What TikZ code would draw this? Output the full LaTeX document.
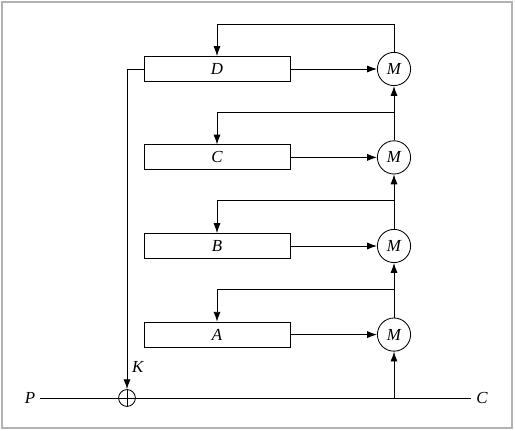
\documentclass[tikz,border=0pt]{standalone}
\usepackage{fontspec}
\setmainfont{Liberation Serif}
\usetikzlibrary{calc,arrows.meta}

\begin{document}
\begin{tikzpicture}[line width=0.6pt, >={Latex[length=7pt,width=5pt]},
  font=\itshape\large,
  blk/.style={draw, minimum width=3.65cm, minimum height=0.625cm},
  mul/.style={draw, circle, minimum size=0.83cm, inner sep=0pt}]
  \useasboundingbox (0,0) rectangle (12.875,10.775);
  % 外框
  \draw[gray!60, line width=0.9pt] (0.05,0.075) rectangle (12.8,10.725);
  % 四个方框, 间距 2.21
  \node[blk] (D) at (5.425,9.05) {D};
  \node[blk] (C) at (5.425,6.84) {C};
  \node[blk] (B) at (5.425,4.625) {B};
  \node[blk] (A) at (5.425,2.41) {A};
  % 乘法器 M
  \node[mul] (MD) at (9.85,9.05) {M};
  \node[mul] (MC) at (9.85,6.84) {M};
  \node[mul] (MB) at (9.85,4.625) {M};
  \node[mul] (MA) at (9.85,2.41) {M};
  % 异或
  \node[draw, circle, minimum size=0.42cm, inner sep=0pt] (X) at (3.175,0.825) {};
  \draw (X.north) -- (X.south);
  \draw (X.west) -- (X.east);
  \node (P) at (0.75,0.825) {P};
  \node (Ct) at (12.05,0.825) {C};
  \node[right] (K) at (3.175,1.6) {K};
  % 分支点
  \coordinate (Br) at (9.85,0.825);
  \coordinate (fA) at (9.85,3.55);
  \coordinate (fB) at (9.85,5.775);
  \coordinate (fC) at (9.85,7.975);
  \coordinate (tD) at (9.85,10.175);
  % 主线 P -> C
  \draw (P) -- (X) -- (Ct);
  \draw[->] (D) -| (X);
  \draw[->] (Br) -- (MA);
  % 方框 -> M
  \draw[->] (A) -- (MA);
  \draw[->] (B) -- (MB);
  \draw[->] (C) -- (MC);
  \draw[->] (D) -- (MD);
  % M 向上串联
  \draw[->] (MA) -- (MB);
  \draw[->] (MB) -- (MC);
  \draw[->] (MC) -- (MD);
  % 反馈
  \draw[->] (fA) -| (A);
  \draw[->] (fB) -| (B);
  \draw[->] (fC) -| (C);
  \draw[->] (MD) -- (tD) -| (D);
\end{tikzpicture}
\end{document}
